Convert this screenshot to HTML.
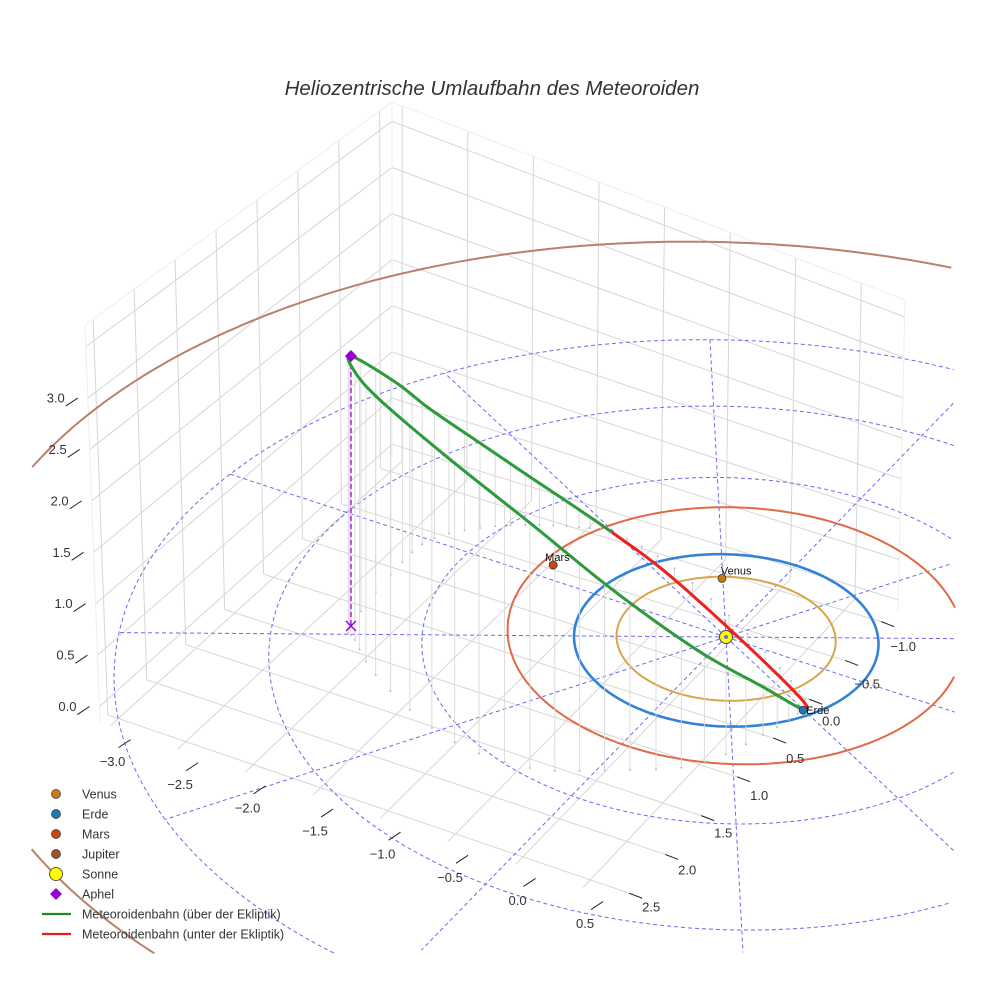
<!DOCTYPE html>
<html><head><meta charset="utf-8">
<style>
html,body{margin:0;padding:0;background:#fff;overflow:hidden;width:984px;height:984px;}
svg{display:block;font-family:"Liberation Sans",sans-serif;}
</style></head>
<body>
<svg id="chart" width="984" height="984" viewBox="0 0 984 984" xmlns="http://www.w3.org/2000/svg">
<rect width="984" height="984" fill="#fff"/>
<text x="492" y="95" text-anchor="middle" font-size="20.5" font-style="italic" fill="#333">Heliozentrische Umlaufbahn des Meteoroiden</text>
<g id="box"></g>
<g id="scene"></g>
<g id="axes"></g>
<g id="legend"></g>
</svg>
<script>
// ---- data ----
const xTicks = [-3.0,-2.5,-2.0,-1.5,-1.0,-0.5,0.0,0.5];
const yTicks = [-1.0,-0.5,0.0,0.5,1.0,1.5,2.0,2.5];
const zTicks = [0.0,0.5,1.0,1.5,2.0,2.5,3.0];
const zGrid = [0.0,0.5,1.0,1.5,2.0,2.5,3.0,3.5];
const planetNames = ["Venus","Erde","Mars"];
const planetR = [0.70,0.94,1.43];
const planetAngle = [-120.5,30.3,186.5];
const orbitNames = ["Venus","Erde","Mars","Jupiter"];
const orbitR = [0.72,1.0,1.5,5.05];
const orbitCx = [0,0,0.0,-0.34];
const orbitCy = [0,0,-0.12,-0.45];
const gridRadii = [1,2,3,4];
const gridAngles = [0,30,60,90,120,150,180,210,240,270,300,330];
const meteorX = [-2.193,-2.312,-2.311,-2.096,-1.818,-1.537,-1.272,-0.808,-0.168,0.469,0.787,0.803,0.716,0.510,0.087,-0.366,-0.977,-1.687,-2.079];
const meteorY = [1.154,0.440,0.002,-0.304,-0.515,-0.652,-0.719,-0.598,-0.270,0.134,0.385,0.502,0.841,1.330,1.642,1.887,1.885,1.573,1.277];
const meteorZ = [2.66,1.902,1.344,0.877,0.496,0.207,0.0,-0.102,-0.129,-0.087,-0.029,0.038,0.450,1.065,1.663,2.266,2.633,2.692,2.624];

const NS="http://www.w3.org/2000/svg";
function mk(tag,attrs,parent){const e=document.createElementNS(NS,tag);for(const k in attrs)e.setAttribute(k,attrs[k]);parent.appendChild(e);return e;}
const K=2177;
function proj(x,y,z){const X=134*x-72*y, Y=44*x+74*y; const g=1/(1-Y/K); return [726+X*g, 637+(Y-102*z)*g];}
function pts(a){return a.map(p=>p[0].toFixed(1)+","+p[1].toFixed(1)).join(" ");}
const CL=[30,30,955,955];
function inside(p){return p[0]>=CL[0]&&p[0]<=CL[2]&&p[1]>=CL[1]&&p[1]<=CL[3];}
function splitIn(a){const segs=[];let cur=[];a.forEach(p=>{if(inside(p))cur.push(p);else{if(cur.length>1)segs.push(cur);cur=[];}});if(cur.length>1)segs.push(cur);return segs;}

// ---- box (scene frame) ----
const xmin=-3.078,xmax=0.833,ymin=-1.15,ymax=2.6,zmin=-0.15,zmax=3.71;
const F00=[392,458],F10=[898,612],F01=[100,722],F11=[628,903];
const T00=[392,102],T10=[905,300],T01=[85,325],T11=[598,523];
function bil(a,b,c,d,u,v){return [(1-u)*(1-v)*a[0]+u*(1-v)*b[0]+(1-u)*v*c[0]+u*v*d[0],(1-u)*(1-v)*a[1]+u*(1-v)*b[1]+(1-u)*v*c[1]+u*v*d[1]];}
function boxPt(x,y,z){const u=(x-xmin)/(xmax-xmin),v=(y-ymin)/(ymax-ymin),w=(z-zmin)/(zmax-zmin);
 const f=bil(F00,F10,F01,F11,u,v),t=bil(T00,T10,T01,T11,u,v);return [f[0]+(t[0]-f[0])*w,f[1]+(t[1]-f[1])*w];}
const box=document.getElementById('box');
function gl(p,q,name,col){const l=mk('line',{x1:p[0],y1:p[1],x2:q[0],y2:q[1],stroke:col||'#d6d6d6','stroke-width':1},box);
 
 }
xTicks.forEach(x=>{gl(boxPt(x,ymin,zmin),boxPt(x,ymin,zmax),'back-wall-x-gridline');gl(boxPt(x,ymin,zmin),boxPt(x,ymax,zmin),'floor-x-gridline');});
yTicks.forEach(y=>{gl(boxPt(xmin,y,zmin),boxPt(xmin,y,zmax),'left-wall-y-gridline');gl(boxPt(xmin,y,zmin),boxPt(xmax,y,zmin),'floor-y-gridline');});
zGrid.forEach(z=>{gl(boxPt(xmin,ymax,z),boxPt(xmin,ymin,z),'left-wall-z-gridline');gl(boxPt(xmin,ymin,z),boxPt(xmax,ymin,z),'back-wall-z-gridline');});
[[boxPt(xmin,ymin,zmin),boxPt(xmin,ymin,zmax)],[boxPt(xmin,ymax,zmin),boxPt(xmin,ymax,zmax)],[boxPt(xmax,ymin,zmin),boxPt(xmax,ymin,zmax)],
 [boxPt(xmin,ymin,zmax),boxPt(xmax,ymin,zmax)],[boxPt(xmin,ymin,zmax),boxPt(xmin,ymax,zmax)]].forEach(e=>gl(e[0],e[1],'box-edge','#eeeeee'));

// ---- axes ticks/labels ----
const axes=document.getElementById('axes');
function tick(p,dx1,dy1,dx2,dy2,name){const l=mk('line',{x1:p[0]+dx1,y1:p[1]+dy1,x2:p[0]+dx2,y2:p[1]+dy2,stroke:'#222','stroke-width':1},axes);
 
 }
function lab(p,dx,dy,s,name){const t=mk('text',{x:p[0]+dx,y:p[1]+dy+4.5,'text-anchor':'middle','font-size':13,fill:'#333'},axes);t.textContent=s;
 
 }
function fmt(v){return (v<0?'\u2212':'')+Math.abs(v).toFixed(1);}
xTicks.forEach(x=>{const p=boxPt(x,ymax,zmin);tick(p,8,22,20,14,'x-tick');lab(p,2,36,fmt(x),'x-tick-label');});
yTicks.forEach(y=>{const p=boxPt(xmax,y,zmin);tick(p,-6,-2,7,3,'y-tick');lab(p,16,23-(y+1)/3.5*11,fmt(y),'y-tick-label');});
zTicks.forEach(z=>{const p=boxPt(xmin,ymax,z);tick(p,-22,8,-10,0,'z-tick');lab(p,-32,0,fmt(z),'z-tick-label');});

// ---- scene ----
const scene=document.getElementById('scene');
function circle(cx,cy,r,n){const a=[];for(let i=0;i<=n;i++){const t=2*Math.PI*i/n;a.push(proj(cx+r*Math.cos(t),cy+r*Math.sin(t),0));}return a;}
function drawClipped(a,attrs,name){splitIn(a).forEach(s=>{const o=mk('polyline',Object.assign({points:pts(s),fill:'none'},attrs),scene);
 
 });}
drawClipped(circle(orbitCx[3],orbitCy[3],orbitR[3],720),{stroke:'#b8826a','stroke-width':2},'jupiter-orbit');
gridRadii.forEach(r=>drawClipped(circle(0,0,r,360),{stroke:'#6a6af0','stroke-width':1,'stroke-dasharray':'4,3'},'ecliptic-grid-circle'));
gridAngles.forEach(a=>{const t=a*Math.PI/180,R=gridRadii[gridRadii.length-1];const ray=[];for(let i=0;i<=80;i++){const r=R*i/80;ray.push(proj(r*Math.cos(t),r*Math.sin(t),0));}
 drawClipped(ray,{stroke:'#6a6af0','stroke-width':1,'stroke-dasharray':'4,3'},'ecliptic-grid-ray');});
const orbCols=['#d9a54a','#3282d8','#e06a45'];
for(let i=0;i<3;i++){drawClipped(circle(orbitCx[i],orbitCy[i],orbitR[i],360),{stroke:orbCols[i],'stroke-width':i==1?2.6:2},orbitNames[i].toLowerCase()+'-orbit');}
// meteoroid path: project data points, then Catmull-Rom in screen space
const N=meteorX.length,SUB=10;
const topP=meteorX.map((x,i)=>proj(x,meteorY[i],meteorZ[i]));
const botP=meteorX.map((x,i)=>proj(x,meteorY[i],0));
function spline(arr){const out=[];for(let i=0;i<N;i++){const P=k=>arr[(k+N)%N];const p0=P(i-1),p1=P(i),p2=P(i+1),p3=P(i+2);
 for(let s=0;s<SUB;s++){const t=s/SUB,t2=t*t,t3=t2*t;out.push([0,1].map(d=>0.5*((2*p1[d])+(-p0[d]+p2[d])*t+(2*p0[d]-5*p1[d]+4*p2[d]-p3[d])*t2+(-p0[d]+3*p1[d]-3*p2[d]+p3[d])*t3)));}}
 out.push(out[0]);return out;}
const topS=spline(topP),botS=spline(botP);
const zS=[];for(let i=0;i<N;i++){for(let s=0;s<SUB;s++){const t=s/SUB;zS.push(meteorZ[i]*(1-t)+meteorZ[(i+1)%N]*t);}}zS.push(zS[0]);
topS.forEach((a,i)=>{if(i%3!==0)return;const b=botS[i];
 const l=mk('line',{x1:a[0],y1:a[1],x2:b[0],y2:b[1],stroke:'#d9d9d9','stroke-width':0.9},scene);
 
 
 const d=mk('circle',{cx:b[0],cy:b[1],r:1,fill:'#bbbbbb'},scene);
 
 });
{const a=topP[0],b=botP[0];
 const l=mk('line',{x1:a[0],y1:a[1],x2:b[0],y2:b[1],stroke:'#9400d3','stroke-width':1.3,'stroke-dasharray':'5,3'},scene);
 
 }
for(let i=0;i<topS.length-1;i++){const zm=(zS[i]+zS[i+1])/2;const p=topS[i],q=topS[i+1];
 const l=mk('line',{x1:p[0],y1:p[1],x2:q[0],y2:q[1],stroke:zm>=0?'#2e9a3a':'#ee2020','stroke-width':3,'stroke-linecap':'round'},scene);
 
 }
const pCols=['#c97a12','#1f77b4','#cc4411'];
const labOff=[[-1,-4],[3,4],[-8,-4]];
for(let i=0;i<3;i++){const t=planetAngle[i]*Math.PI/180;const p=proj(planetR[i]*Math.cos(t),planetR[i]*Math.sin(t),0);
 const c=mk('circle',{cx:p[0],cy:p[1],r:4,fill:pCols[i],stroke:'#333','stroke-width':0.8},scene);
 
 
 const tx=mk('text',{x:p[0]+labOff[i][0],y:p[1]+labOff[i][1],'font-size':11,fill:'#111'},scene);tx.textContent=planetNames[i];
 
 }
{const p=proj(0,0,0);const c=mk('circle',{cx:p[0],cy:p[1],r:6.5,fill:'#ffff00',stroke:'#444','stroke-width':1},scene);
 
 
 const s=mk('circle',{cx:p[0],cy:p[1],r:2,fill:'#6a6af0'},scene);
 
 }
{const p=topP[0];const d=mk('polygon',{points:`${p[0]},${p[1]-6} ${p[0]+6},${p[1]} ${p[0]},${p[1]+6} ${p[0]-6},${p[1]}`,fill:'#9400d3'},scene);
 
 
 const b=botP[0];
 const x=mk('path',{d:`M${b[0]-5},${b[1]-5}L${b[0]+5},${b[1]+5}M${b[0]-5},${b[1]+5}L${b[0]+5},${b[1]-5}`,stroke:'#9400d3','stroke-width':1.4,fill:'none'},scene);
 
 }

// ---- legend ----
const leg=document.getElementById('legend');
const legNames=['Venus','Erde','Mars','Jupiter','Sonne','Aphel','Meteoroidenbahn (über der Ekliptik)','Meteoroidenbahn (unter der Ekliptik)'];
const legCols=['#c97a12','#1f77b4','#cc4411','#a0522d','#ffff00','#9400d3','#1f8a1f','#e02020'];
legNames.forEach((n,i)=>{const y=794+20*i;const g=mk('g',{},leg);
 
 
 if(i<4){mk('circle',{cx:56,cy:y,r:4.5,fill:legCols[i],stroke:'#333','stroke-width':0.7},g);}
 else if(i==4){mk('circle',{cx:56,cy:y,r:6.5,fill:legCols[i],stroke:'#333','stroke-width':0.8},g);}
 else if(i==5){mk('polygon',{points:`56,${y-6} 62,${y} 56,${y+6} 50,${y}`,fill:legCols[i]},g);}
 else{mk('line',{x1:42,y1:y,x2:71,y2:y,stroke:legCols[i],'stroke-width':2.2},g);}
 const t=mk('text',{x:82,y:y+4.5,'font-size':12.5,fill:'#333'},g);t.textContent=n;});
</script>
</body></html>
